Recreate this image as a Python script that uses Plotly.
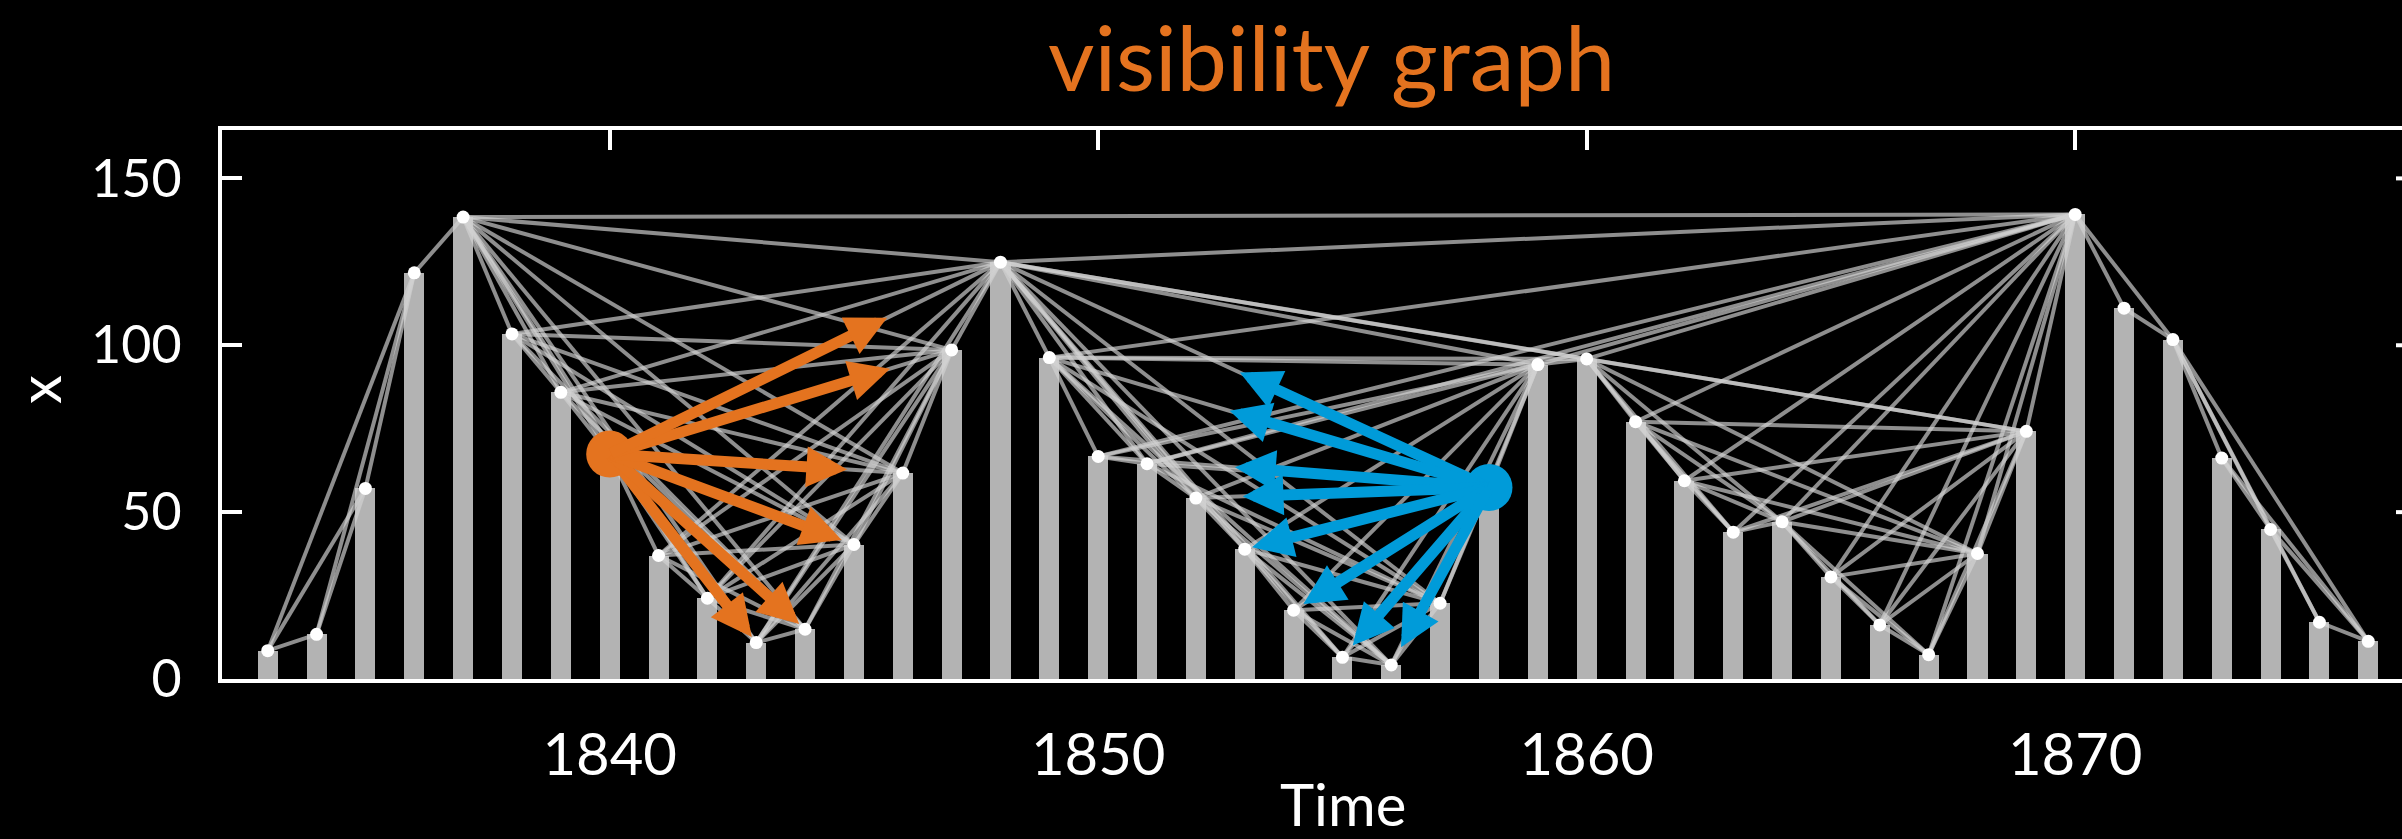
import plotly.graph_objects as go

# ---------------- data ----------------
years = list(range(1833, 1877))
values = [8.5, 13.4, 57.1, 121.7, 138.4, 103.4, 85.9, 67.4, 37.0, 24.2, 10.9, 14.9, 40.3, 61.7, 98.6, 124.9,
          96.3, 66.7, 64.5, 54.2, 38.9, 20.6, 6.5, 4.2, 22.7, 57.4, 94.2, 95.9, 77.1, 59.4, 44.0,
          47.1, 30.6, 16.2, 7.3, 37.6, 74.2, 139.2, 111.1, 101.7, 66.2, 44.8, 17.0, 11.3]

x_ticks = [1840, 1850, 1860, 1870]
x_ticktext = ["1840", "1850", "1860", "1870"]
y_ticks = [0, 50, 100, 150]
y_ticktext = ["0", "50", "100", "150"]

orange_source = 1840
orange_targets = [1843, 1844, 1845, 1846, 1847, 1848]
orange_reach = [0.97, 0.97, 0.95, 0.81, 0.82, 0.71]

blue_source = 1858
blue_targets = [1848, 1849, 1850, 1852, 1853, 1854, 1855, 1856]
blue_reach = [0.51, 0.59, 0.65, 0.84, 0.97, 0.95, 0.93, 0.9]

title_text = "visibility graph"
x_title = "Time"
y_title = "x"

# ---------------- style ----------------
ORANGE = "#E4731F"
BLUE = "#009BD9"
BAR = "#B3B3B3"
EDGE = "rgba(210,210,210,0.68)"
FONT = "Lato"
W, H = 2402, 839
ML, MR, MT, MB = 222, 0, 130, 160
XR = [1832.064, 1876.69]
YR = [0, 164.5]

fig = go.Figure()

fig.add_trace(go.Bar(x=years, y=values, width=0.41, marker=dict(color=BAR, line=dict(width=0)),
                     hoverinfo="skip", showlegend=False))

# natural visibility graph edges computed from the series
n = len(years)
for a in range(n):
    for b in range(a + 1, n):
        ok = True
        for c in range(a + 1, b):
            line_val = values[b] + (values[a] - values[b]) * (years[b] - years[c]) / (years[b] - years[a])
            if values[c] >= line_val:
                ok = False
                break
        if ok:
            fig.add_trace(go.Scatter(x=[years[a], years[b]], y=[values[a], values[b]], mode="lines",
                                     line=dict(color=EDGE, width=4), hoverinfo="skip", showlegend=False))

fig.add_trace(go.Scatter(x=years, y=values, mode="markers",
                         marker=dict(color="white", size=13, line=dict(width=0)),
                         hoverinfo="skip", showlegend=False))

def add_arrows(src, targets, reach, color):
    si = years.index(src)
    sy = values[si]
    for t, f in zip(targets, reach):
        ti = years.index(t)
        xt = src + f * (t - src)
        yt = sy + f * (values[ti] - sy)
        fig.add_annotation(x=xt, y=yt, ax=src, ay=sy, xref="x", yref="y", axref="x", ayref="y",
                           text="", showarrow=True, arrowhead=2, arrowsize=0.74, arrowwidth=11,
                           arrowcolor=color, standoff=0, startstandoff=0)
    fig.add_trace(go.Scatter(x=[src], y=[sy], mode="markers",
                             marker=dict(color=color, size=47, line=dict(width=0)),
                             hoverinfo="skip", showlegend=False))

add_arrows(orange_source, orange_targets, orange_reach, ORANGE)
add_arrows(blue_source, blue_targets, blue_reach, BLUE)

# right-side inward ticks (the right frame line lies just outside the picture)
for v in y_ticks[1:]:
    fig.add_shape(type="line", xref="paper", yref="y", x0=1 - 6 / (W - ML - MR), x1=1, y0=v, y1=v,
                  line=dict(color="white", width=4))

fig.add_annotation(text=title_text, xref="paper", yref="paper", x=(1332 - ML) / (W - ML - MR),
                   y=(H - MB - 56) / (H - MT - MB), showarrow=False,
                   font=dict(family=FONT, size=90, color=ORANGE), xanchor="center", yanchor="middle")
fig.add_annotation(text=x_title, xref="paper", yref="paper", x=(1343 - ML) / (W - ML - MR),
                   y=(H - MB - 803) / (H - MT - MB), showarrow=False,
                   font=dict(family=FONT, size=58, color="white"), xanchor="center", yanchor="middle")
fig.add_annotation(text=y_title, xref="paper", yref="paper", x=(38 - ML) / (W - ML - MR),
                   y=(H - MB - 390) / (H - MT - MB), showarrow=False, textangle=-90,
                   font=dict(family=FONT, size=58, color="white"), xanchor="center", yanchor="middle")

fig.update_layout(
    width=W, height=H, margin=dict(l=ML, r=MR, t=MT, b=MB),
    paper_bgcolor="black", plot_bgcolor="black", bargap=0,
    font=dict(family=FONT, color="white"),
    xaxis=dict(range=XR, showgrid=False, zeroline=False, showline=True, linecolor="white", linewidth=4,
               mirror="ticks", ticks="inside", ticklen=20, tickwidth=4, tickcolor="white",
               tickvals=x_ticks, ticktext=x_ticktext, tickfont=dict(family=FONT, size=58, color="white"),
               ticklabelstandoff=22, layer="below traces"),
    yaxis=dict(range=YR, showgrid=False, zeroline=False, showline=True, linecolor="white", linewidth=4,
               mirror=False, ticks="inside", ticklen=20, tickwidth=4, tickcolor="white",
               tickvals=y_ticks, ticktext=y_ticktext, tickfont=dict(family=FONT, size=52, color="white"),
               ticklabelstandoff=26, layer="below traces"),
)

fig.write_html("out.html")
